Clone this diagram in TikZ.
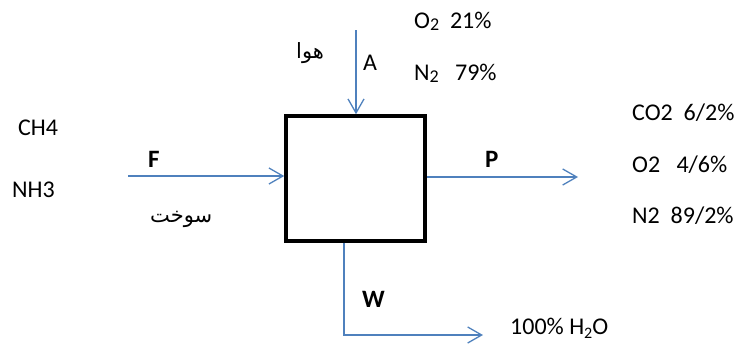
\documentclass[tikz,border=0pt]{standalone}
\usepackage{fontspec}
\setmainfont{Carlito}
\newfontfamily\arabicfont[Script=Arabic]{DejaVu Sans}
\TeXXeTstate=1
\usetikzlibrary{arrows.meta}
\definecolor{flowblue}{RGB}{79,129,189}
\newcommand{\lowtwo}{\raisebox{-0.12em}{\fontsize{18}{20}\selectfont 2}}
\newcommand{\subtwo}{\raisebox{-0.18em}{\fontsize{16}{18}\selectfont 2}}
\begin{document}
\begin{tikzpicture}[x=1pt,y=-1pt,
  flow/.style={draw=flowblue,line width=1.3pt,-{Straight Barb[length=14pt,width=16pt,line width=1.3pt]}},
  lbl/.style={anchor=base west,inner sep=0pt,font=\fontsize{24}{28}\selectfont},
  blbl/.style={lbl,font=\fontsize{25}{28}\selectfont\bfseries},
  alb/.style={anchor=base west,inner sep=0pt,font=\arabicfont\fontsize{21}{24}\selectfont},
  unit/.style={draw=black,line width=3.5pt,minimum width=139pt,minimum height=125pt,inner sep=0pt}]
\useasboundingbox (0,0) rectangle (741,343);
\node[unit] (box) at (355.5,178.5) {};
% air
\coordinate (aTop) at (356,30);
\draw[flow] (aTop) -- (box.north -| aTop);
\node[lbl] (A) at (363,70) {A};
\node[alb] (hava) at (296,58) {\beginR هوا\endR};
\node[lbl] (o2a) at (414,28) {O\lowtwo\ \ 21\%};
\node[lbl] (n2a) at (414,80) {N\lowtwo\ \ \ 79\%};
% feed
\coordinate (fStart) at (128,176);
\draw[flow] (fStart) -- (box.west |- fStart);
\node[blbl] (F) at (148,167) {F};
\node[lbl] (ch4) at (18,135) {CH4};
\node[lbl] (nh3) at (12,197) {NH3};
\node[alb] (sookht) at (150,222) {\beginR سوخت\endR};
% product
\coordinate (pEnd) at (578,177);
\draw[flow] (box.east |- pEnd) -- (pEnd);
\node[blbl] (P) at (485,167) {P};
\node[lbl] (co2) at (632,120) {CO2\ \ 6/2\%};
\node[lbl] (o2p) at (632,172) {O2\ \ \ 4/6\%};
\node[lbl] (n2p) at (632,223) {N2\ \ 89/2\%};
% water
\coordinate (wTop) at (344,241);
\coordinate (wCorner) at (344,335);
\coordinate (wEnd) at (483,335);
\draw[flow] (box.south -| wTop) -- (wCorner) -- (wEnd);
\node[blbl] (W) at (362,307) {W};
\node[lbl] (h2o) at (510,334) {100\% H\subtwo O};
\end{tikzpicture}
\end{document}
